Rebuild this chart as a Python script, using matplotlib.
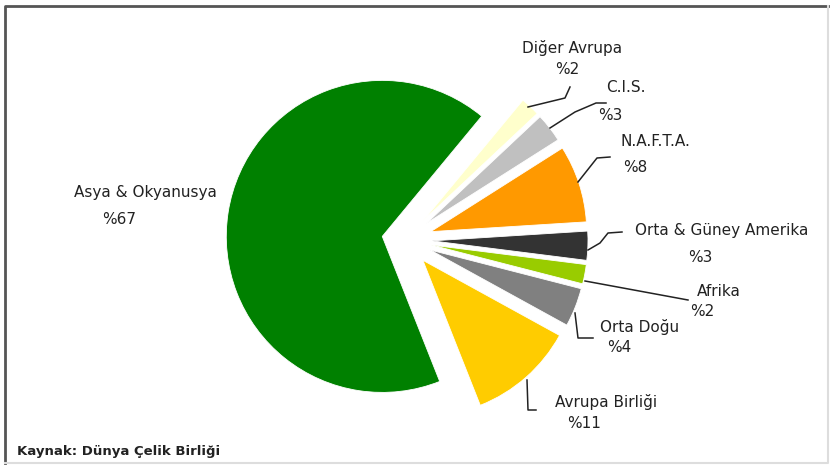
import matplotlib
matplotlib.use("Agg")
import matplotlib.pyplot as plt
from matplotlib.lines import Line2D

# ---- data ----
regions = ["Avrupa Birliği", "Orta Doğu", "Afrika", "Orta & Güney Amerika",
           "N.A.F.T.A.", "C.I.S.", "Diğer Avrupa", "Asya & Okyanusya"]
shares = [11, 4, 2, 3, 8, 3, 2, 67]
pct_labels = ["%11", "%4", "%2", "%3", "%8", "%3", "%2", "%67"]
colors = ["#FFCC00", "#808080", "#99CC00", "#333333",
          "#FF9900", "#C0C0C0", "#FFFFCC", "#008000"]
source = "Kaynak: Dünya Çelik Birliği"

W, H = 832, 472
fig = plt.figure(figsize=(W / 100, H / 100), dpi=100)
ax = fig.add_axes([0, 0, 1, 1])

def Y(y):
    return H - y

# explode offsets are absolute (data units = pixels here)
explode = [27] * 7 + [23]
ax.pie(shares, colors=colors, startangle=-68.4, counterclock=True,
       explode=explode, center=(405, Y(240)), radius=156,
       wedgeprops=dict(linewidth=0.6, edgecolor="white"))
ax.set_xlim(0, W)
ax.set_ylim(0, H)
ax.set_aspect("equal")
ax.axis("off")

# label positions (pixel layout): name line center, pct line center
name_pos = [(606, 402), (640, 327), (719, 291), (722, 230),
            (655, 142), (626, 88), (572, 48), (145, 193)]
pct_pos = [(584, 423), (619, 347), (702, 312), (700, 257),
           (635, 168), (610, 115), (567, 70), (119, 219)]
font = dict(family="DejaVu Sans", fontsize=11, color="#222222")
for name, pct, (nx, ny), (px, py) in zip(regions, pct_labels, name_pos, pct_pos):
    ax.text(nx, Y(ny), name, ha="center", va="center", **font)
    ax.text(px, Y(py), pct, ha="center", va="center", **font)

# leader lines (pixel layout)
leaders = [
    [(527, 380), (528, 410), (536, 410)],
    [(575, 313), (578, 338), (593, 338)],
    [(585, 281), (688, 300)],
    [(588, 250), (600, 243), (608, 233), (622, 232)],
    [(578, 182), (597, 158), (610, 157)],
    [(550, 128), (575, 112), (596, 103), (606, 103)],
    [(528, 107), (565, 98), (570, 87)],
]
for pts in leaders:
    xs = [p[0] for p in pts]
    ys = [Y(p[1]) for p in pts]
    ax.add_line(Line2D(xs, ys, color="#222222", linewidth=1.1))

ax.text(17, Y(452), source, ha="left", va="center",
        family="DejaVu Sans", fontsize=9.5, fontweight="bold", color="#222222")

# frame
ax.add_line(Line2D([5, 5, 828], [Y(463), Y(6), Y(6)], color="#555555", linewidth=2))
ax.add_line(Line2D([5, 828, 828], [Y(463), Y(463), Y(6)], color="#dddddd", linewidth=1.5))

fig.savefig("out.png", dpi=100)
